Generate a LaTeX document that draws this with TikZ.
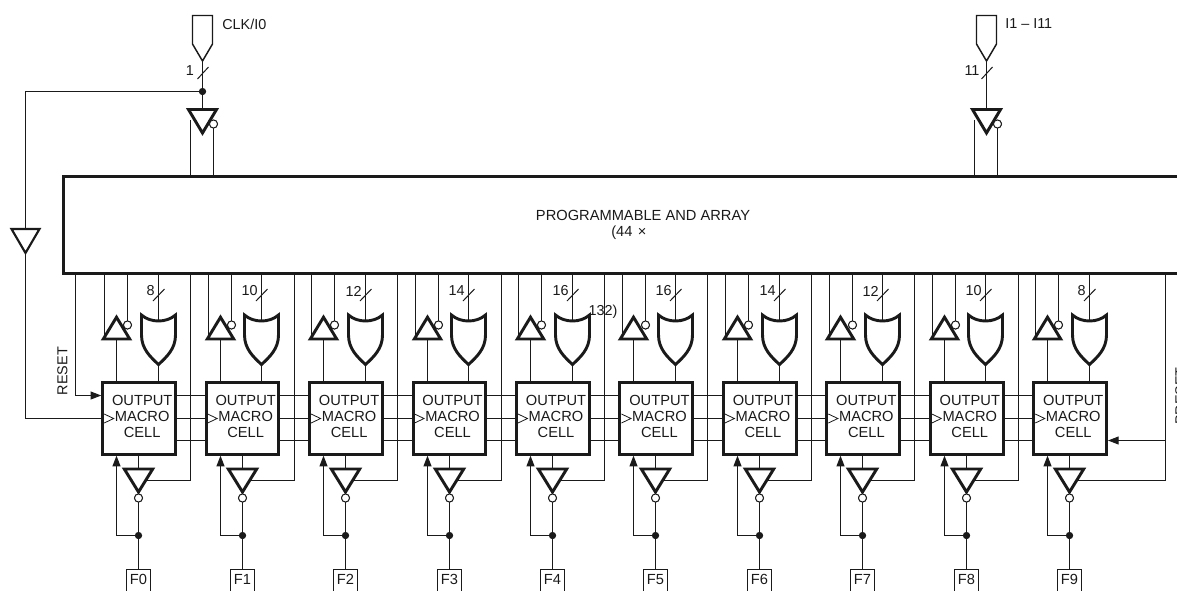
\documentclass[tikz,border=0pt]{standalone}
\usepackage{fontspec}
\setmainfont{Liberation Sans}
\usetikzlibrary{arrows.meta,calc}
\definecolor{ink}{HTML}{1A1A1A}
\tikzset{
  wire/.style={draw=ink,line width=0.75pt},
  feed/.style={wire,-{Triangle[length=8pt,width=6pt]}},
  gate/.style={draw=ink,line width=2.2pt,fill=white,line join=miter},
  padshape/.style={draw=ink,line width=1.1pt,fill=white},
  bubble/.style={circle,draw=ink,line width=0.7pt,fill=white,minimum size=6pt,inner sep=0pt},
  dotnode/.style={circle,fill=ink,minimum size=5.5pt,inner sep=0pt},
  lbl/.style={font=\fontsize{10.8}{12}\selectfont,text=ink,inner sep=0pt},
  mcbox/.style={draw=ink,line width=2.2pt,minimum width=54.6pt,minimum height=54pt,inner sep=0pt},
  mctext/.style={font=\fontsize{11}{12}\selectfont,text=ink,align=center,inner sep=0pt},
  arraybox/.style={draw=ink,line width=2.2pt,minimum width=846pt,minimum height=72.5pt,inner sep=0pt},
  fpad/.style={draw=ink,line width=0.75pt,minimum width=17.5pt,minimum height=22pt,inner sep=0pt},
}
\begin{document}
\begin{tikzpicture}[x=0.75pt,y=-0.75pt]
\useasboundingbox (0,0) rectangle (1177,590);
\clip (0,0) rectangle (1177,590);

% AND array (runs off the right edge)
\node[arraybox,anchor=north west] (arr) at (62.2,175) {};
\node[mctext] (arrt) at (643,215) {PROGRAMMABLE AND ARRAY};
\node[mctext,anchor=west] (arrn) at (611,233) {(44 \hspace{0.1em}×};

% input pads
\foreach \n/\c/\lx/\num/\txt/\tx in {clk/202.5/190/1/{CLK/I0}/222, inp/986.5/972/11/{I1 – I11}/1005}{
  \coordinate (\n tip) at (\c,61);
  \draw[padshape] ({\c-10},15.5) -- ({\c+10},15.5) -- ({\c+10},44) -- (\n tip) -- ({\c-10},44) -- cycle;
  \node[lbl,anchor=west] (\n lab) at (\tx,24) {\txt};
  \coordinate (\n top) at (\c,109);
  \draw[wire] (\n tip) -- (\n top);
  \coordinate (\n sa) at ({\c-5},79);
  \coordinate (\n sb) at ({\c+6},67);
  \draw[wire] (\n sa) -- (\n sb);
  \node[lbl] (\n num) at (\lx,71) {\num};
  \coordinate (\n l) at ({\c-12},120);
  \node[bubble] (\n b) at ({\c+11},124) {};
  \draw[wire] (\n l) -- (\n l |- arr.north);
  \draw[wire] (\n b) -- (\n b |- arr.north);
  \draw[gate] ({\c-14},109.5) -- ({\c+14},109.5) -- (\c,133) -- cycle;
  \node[bubble] at (\n b) {};
}

% clock distribution
\node[dotnode] (cdot) at (202.5,91.5) {};
\coordinate (ctop) at (25.5,91.5);
\coordinate (bufa) at (25.5,229);
\coordinate (bufb) at (25.5,253);
\coordinate (cclk) at (25.5,418.5);
\draw[wire] (cdot) -- (ctop) -- (bufa);
\draw[wire] (bufb) -- (cclk);
\draw[draw=ink,line width=1.6pt,fill=white,line join=miter] (11.5,229) -- (39.5,229) -- (bufb) -- cycle;

% macrocells
\foreach \i/\w in {0/8,1/10,2/12,3/14,4/16,5/16,6/14,7/12,8/10,9/8}{
  \pgfmathsetmacro\X{102.7+103.45*\i}
  \pgfmathsetmacro\C{\X+36.4}
  \pgfmathsetmacro\T{floor(\X+14)+0.5}
  \pgfmathsetmacro\O{floor(\X+55.7)+0.5}
  \pgfmathsetmacro\V{floor(\i==9 ? \X+132 : \X+88)+0.5}
  \pgfmathsetmacro\Ea{floor(\X+2.2)+0.5}
  \pgfmathsetmacro\Eb{floor(\X+25.2)+0.5}
  \node[mcbox] (mc\i) at (\C,418.2) {};
  \node[mctext] (mt\i) at ({\X+39.5},416) {OUTPUT\\MACRO\\CELL};
  % clock triangle
  \draw[draw=ink,line width=0.6pt] ({\X+1.5},414) -- ({\X+11},418.5) -- ({\X+1.5},423);
  % top: enable buffer + OR
  \coordinate (en\i) at (\T,339);
  \coordinate (ena\i) at (\Ea,338);
  \node[bubble] (eb\i) at (\Eb,325) {};
  \draw[wire] (ena\i |- arr.south) -- (ena\i);
  \draw[wire] (eb\i |- arr.south) -- (eb\i);
  \draw[wire] (en\i) -- (en\i |- mc\i.north);
  \draw[gate] ({\T-13.2},339) -- ({\T+13.2},339) -- (\T,317.2) -- cycle;
  \node[bubble] at (eb\i) {};
  \coordinate (ort\i) at (\O,321);
  \coordinate (orb\i) at (\O,364.5);
  \draw[wire] (ort\i |- arr.south) -- (ort\i);
  \draw[wire] (orb\i) -- (orb\i |- mc\i.north);
  \draw[gate] ({\O-17},315) .. controls ({\O-8},323) and ({\O+8},323) .. ({\O+17},315)
     -- ({\O+17},335) .. controls ({\O+17},349) and ({\O+8},357) .. (orb\i)
     .. controls ({\O-8},357) and ({\O-17},349) .. ({\O-17},335) -- cycle;
  \coordinate (sa\i) at ({\O-5.5},301);
  \coordinate (sb\i) at ({\O+6},289);
  \draw[wire] (sa\i) -- (sb\i);
  \node[lbl,anchor=east] (w\i) at ({\O-3.5},291) {\w};
  % feedback
  \pgfmathsetmacro\B{floor(\X+36)+0.5}
  \coordinate (vb\i) at (\V,480.5);
  \coordinate (vi\i) at ({\B+7},480.5);
  \draw[wire] (vb\i |- arr.south) -- (vb\i) -- (vi\i);
  % bottom: output buffer and pad
  \coordinate (bt\i) at (\B,469);
  \draw[wire] (bt\i |- mc\i.south) -- (bt\i);
  \node[fpad,anchor=north] (f\i) at (\B,568.5) {};
  \node[mctext] (ft\i) at (\B,579.8) {F\i};
  \node[dotnode] (d\i) at (\B,535.5) {};
  \node[bubble] (ob\i) at (\B,498) {};
  \draw[wire] (ob\i) -- (d\i) -- (f\i);
  \draw[gate] ({\B-14.2},469) -- ({\B+14.2},469) -- (\B,492) -- cycle;
  \node[bubble] at (ob\i) {};
  \coordinate (up\i) at (\T,535.5);
  \draw[feed] (d\i) -- (up\i) -- (up\i |- mc\i.south);
}

% links between macrocells
\foreach \i/\j in {0/1,1/2,2/3,3/4,4/5,5/6,6/7,7/8,8/9}{
  \foreach \y in {395.5,418.5,440.5}{
    \draw[wire] (mc\i.east |- 0,\y) -- (mc\j.west |- 0,\y);
  }
}

% reset
\coordinate (rst) at (75.5,395.5);
\draw[feed] (rst |- arr.south) -- (rst) -- (mc0.west |- rst);
\node[lbl,rotate=90] (rstl) at (62.5,371) {RESET};
\draw[wire] (cclk) -- (mc0.west |- cclk);

% preset
\coordinate (pst) at (1165.5,440.5);
\draw[feed] (pst |- arr.south) -- (pst) -- (mc9.east |- pst);
\node[lbl,rotate=90] (pstl) at (1180.5,396) {PRESET};

\node[lbl] (note) at (603,312) {132)};
\end{tikzpicture}
\end{document}
